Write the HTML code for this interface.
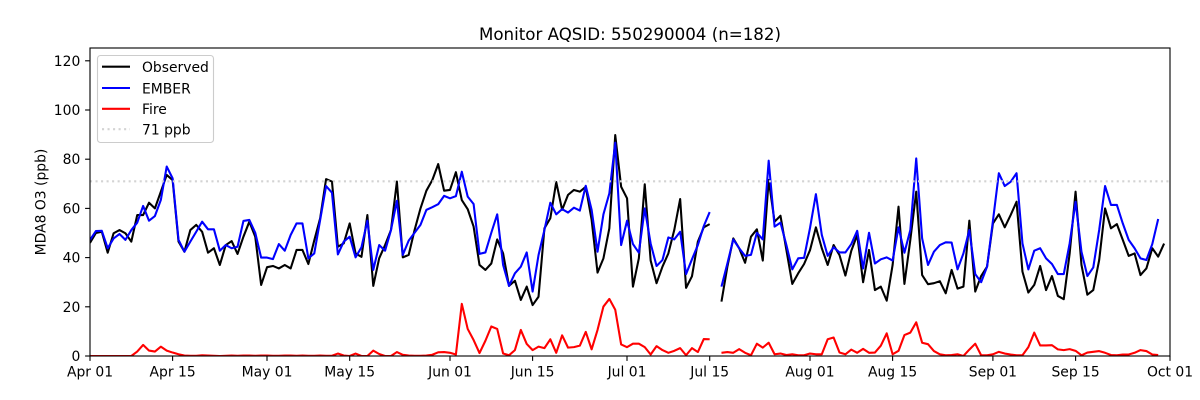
<!DOCTYPE html>
<html>
<head>
<meta charset="utf-8">
<style>
html,body{margin:0;padding:0;background:#fff;}
svg{display:block;}
text{font-family:"DejaVu Sans","Liberation Sans",sans-serif;fill:#000;}
</style>
</head>
<body>
<svg width="1200" height="400" viewBox="0 0 1200 400" xmlns="http://www.w3.org/2000/svg">
<defs>
<clipPath id="ax"><rect x="90" y="48" width="1080" height="308"/></clipPath>
</defs>
<rect x="0" y="0" width="1200" height="400" fill="#fff"/>

<g clip-path="url(#ax)" fill="none" stroke-linejoin="round">
<g transform="matrix(5.9016 0 0 -2.46 90 356)">
<polyline vector-effect="non-scaling-stroke" stroke="#000" stroke-width="2.08" points="0,46 1,50 2,50.5 3,42 4,49.9 5,51.2 6,49.9 7,46.5 8,57.3 9,57.3 10,62.3 11,60 12,66.8 13,73.6 14,71.5 15,46.5 16,42.4 17,51.2 18,53.3 19,50.5 20,42 21,43.8 22,37 23,45.1 24,46.7 25,41.5 26,48.5 27,54.6 28,48.5 29,28.9 30,36.1 31,36.6 32,35.6 33,37 34,35.6 35,43.1 36,43.1 37,37.4 38,47 39,56 40,71.9 41,70.9 42,44.4 43,45.8 44,53.9 45,41.7 46,40.3 47,57.3 48,28.5 49,39.7 50,45.1 51,51.2 52,70.9 53,40.1 54,41.1 55,51.2 56,60 57,67.2 58,71.5 59,78 60,67.2 61,67.5 62,74.7 63,63.4 64,59.7 65,52.6 66,37 67,35 68,37.6 69,47.4 70,41.7 71,28.5 72,30.6 73,22.8 74,28.2 75,20.7 76,24.1 77,51.9 78,56 79,70.7 80,59.4 81,65.5 82,67.5 83,66.8 84,68.8 85,55.3 86,33.9 87,39.7 88,51.9 89,89.8 90,68.8 91,64.1 92,28.2 93,39.7 94,69.8 95,38.8 96,29.6 97,36.3 98,41.7 99,51.2 100,63.8 101,27.7 102,32.4 103,46.5 104,52.3 105,53.6"/>
<polyline vector-effect="non-scaling-stroke" stroke="#000" stroke-width="2.08" points="107,22.1 108,36.3 109,47.8 110,43.8 111,37.9 112,48.5 113,51.5 114,38.8 115,71.6 116,54.6 117,57 118,43.1 119,29.3 120,33.6 121,37.4 122,43 123,52.3 124,43.8 125,37 126,45.1 127,41 128,32.7 129,42.8 130,49.2 131,30 132,43.1 133,26.8 134,28.2 135,22.5 136,37 137,60.7 138,29.3 139,47.2 140,66.8 141,32.9 142,29.2 143,29.6 144,30.4 145,25.5 146,35 147,27.4 148,28.2 149,55 150,26.2 151,32.5 152,36.3 153,53.9 154,57.6 155,52.3 156,57.3 157,62.7 158,34.3 159,25.8 160,28.9 161,36.6 162,26.8 163,32.5 164,24.4 165,23.1 166,41.7 167,66.8 168,37 169,24.9 170,26.8 171,39 172,60 173,51.9 174,53.6 175,47.2 176,40.7 177,41.7 178,32.9 179,35.6 180,43.8 181,40.4 182,45.7"/>

<polyline vector-effect="non-scaling-stroke" stroke="#0000ff" stroke-width="2.08" points="0,47.2 1,50.8 2,50.9 3,43.8 4,47.8 5,49.6 6,47.2 7,51.2 8,54.2 9,61 10,55 11,56.9 12,63.4 13,77 14,72.2 15,47.2 16,42.4 17,46.5 18,50.5 19,54.6 20,51.5 21,51.5 22,42.8 23,45.1 24,43.8 25,44.4 26,54.9 27,55.3 28,50.1 29,40 30,40 31,39.4 32,45.5 33,42.8 34,49.2 35,53.9 36,53.9 37,39.7 38,41.7 39,55.3 40,69.1 41,66.4 42,41.3 43,46.5 44,48.5 45,40.1 46,44.2 47,55 48,35 49,45.1 50,42.8 51,51.2 52,63.1 53,41.1 54,46.9 55,50.1 56,53.3 57,59.4 58,60.5 59,61.7 60,65.1 61,64.1 62,65 63,74.9 64,64.8 65,61.8 66,41.5 67,42.1 68,50.1 69,57.6 70,37 71,28.5 72,33.6 73,36.3 74,42.1 75,26.2 76,41 77,51.2 78,62.3 79,57.6 80,59.7 81,58.3 82,60.3 83,59.1 84,69.2 85,59.4 86,42.4 87,57.6 88,66.1 89,86.7 90,45.1 91,55 92,45.5 93,42 94,60 95,45.7 96,36.6 97,39 98,48.2 99,47.4 100,50.5 101,33.3 102,39.3 103,45.1 104,52.8 105,58.5"/>
<polyline vector-effect="non-scaling-stroke" stroke="#0000ff" stroke-width="2.08" points="107,28.2 108,37.6 109,47.4 110,43.8 111,40.7 112,41.1 113,50.1 114,47.4 115,79.4 116,52.6 117,54.2 118,45.1 119,35.2 120,39.7 121,39.9 122,52 123,65.8 124,49.2 125,40.7 126,44.2 127,42.1 128,42.1 129,45.5 130,50.9 131,35.6 132,50.1 133,37.6 134,39.3 135,40.1 136,38.8 137,52.3 138,42 139,51.2 140,80.3 141,47.8 142,37 143,42.4 144,45.1 145,46.2 146,46.1 147,35.2 148,41.7 149,51.2 150,33.3 151,30 152,36.3 153,55 154,74.3 155,69.1 156,70.8 157,74.3 158,45.8 159,35.2 160,42.8 161,43.8 162,39.7 163,37.4 164,33.3 165,33.3 166,45.8 167,62.7 168,42.4 169,32.5 170,36 171,51.2 172,69.1 173,61.4 174,61.4 175,53.9 176,47.2 177,43.8 178,39.7 179,39 180,45.5 181,55.7"/>

<polyline vector-effect="non-scaling-stroke" stroke="#ff0000" stroke-width="2.08" points="0,0 1,0 2,0 3,0 4,0 5,0 6,0 7,0 8,1.8 9,4.5 10,2.2 11,1.8 12,3.8 13,2.2 14,1.4 15,0.7 16,0.2 17,0.1 18,0.1 19,0.3 20,0.2 21,0.1 22,0 23,0.1 24,0.2 25,0.1 26,0.2 27,0.2 28,0.1 29,0.2 30,0.2 31,0.1 32,0.1 33,0.2 34,0.2 35,0.1 36,0.2 37,0.1 38,0.1 39,0.2 40,0.1 41,0.1 42,1.0 43,0.2 44,0 45,1.0 46,0 47,0 48,2.2 49,0.8 50,0 51,0 52,1.6 53,0.5 54,0.2 55,0.1 56,0.1 57,0.2 58,0.5 59,1.5 60,1.6 61,1.3 62,0.6 63,21.2 64,11 65,6.5 66,1.2 67,6.2 68,12 69,11 70,1 71,0.3 72,2.4 73,10.6 74,4.9 75,2.4 76,3.8 77,3.2 78,6.8 79,1.3 80,8.4 81,3.4 82,3.6 83,4.2 84,9.8 85,2.7 86,10.6 87,20.1 88,23.2 89,18.8 90,4.7 91,3.6 92,5 93,5 94,3.6 95,0.6 96,4 97,2.4 98,1.3 99,2.1 100,3.2 101,0.3 102,3.2 103,1.6 104,6.9 105,6.8"/>
<polyline vector-effect="non-scaling-stroke" stroke="#ff0000" stroke-width="2.08" points="107,1.3 108,1.6 109,1.3 110,2.8 111,1.3 112,0.3 113,5 114,3.4 115,5.4 116,0.7 117,1 118,0.4 119,0.7 120,0.3 121,0.3 122,1 123,0.7 124,0.7 125,6.8 126,7.5 127,1.4 128,0.7 129,2.6 130,1.3 131,2.9 132,1.3 133,1.4 134,4.2 135,9.2 136,0.7 137,2.1 138,8.5 139,9.5 140,13.7 141,5.4 142,4.8 143,2 144,0.7 145,0.3 146,0.4 147,0.7 148,0 149,2.6 150,5 151,0.3 152,0.3 153,0.7 154,1.7 155,1 156,0.6 157,0.3 158,0.3 159,3.6 160,9.5 161,4.3 162,4.3 163,4.4 164,2.7 165,2.4 166,2.8 167,2.1 168,0.3 169,1.4 170,1.7 171,2 172,1.3 173,0.4 174,0.3 175,0.6 176,0.6 177,1.3 178,2.4 179,2 180,0.6 181,0.4"/>
</g>
<line x1="90" y1="181.3" x2="1170" y2="181.3" stroke="#d3d3d3" stroke-width="2.08" stroke-dasharray="2.08 3.44"/>
</g>

<!-- spines -->
<rect x="90" y="48" width="1080" height="308" fill="none" stroke="#000" stroke-width="1.11"/>

<!-- y ticks -->
<g stroke="#000" stroke-width="1.11">
<line x1="85.1" y1="356" x2="90" y2="356"/>
<line x1="85.1" y1="306.8" x2="90" y2="306.8"/>
<line x1="85.1" y1="257.6" x2="90" y2="257.6"/>
<line x1="85.1" y1="208.4" x2="90" y2="208.4"/>
<line x1="85.1" y1="159.2" x2="90" y2="159.2"/>
<line x1="85.1" y1="110" x2="90" y2="110"/>
<line x1="85.1" y1="60.8" x2="90" y2="60.8"/>
</g>
<g font-size="13.9" text-anchor="end">
<text x="80.3" y="361">0</text>
<text x="80.3" y="311.8">20</text>
<text x="80.3" y="262.6">40</text>
<text x="80.3" y="213.4">60</text>
<text x="80.3" y="164.2">80</text>
<text x="80.3" y="115">100</text>
<text x="80.3" y="65.8">120</text>
</g>

<!-- x ticks -->
<g stroke="#000" stroke-width="1.11">
<line x1="90" y1="356" x2="90" y2="360.9"/>
<line x1="172.6" y1="356" x2="172.6" y2="360.9"/>
<line x1="267" y1="356" x2="267" y2="360.9"/>
<line x1="349.7" y1="356" x2="349.7" y2="360.9"/>
<line x1="450" y1="356" x2="450" y2="360.9"/>
<line x1="532.6" y1="356" x2="532.6" y2="360.9"/>
<line x1="627" y1="356" x2="627" y2="360.9"/>
<line x1="709.7" y1="356" x2="709.7" y2="360.9"/>
<line x1="810" y1="356" x2="810" y2="360.9"/>
<line x1="892.6" y1="356" x2="892.6" y2="360.9"/>
<line x1="992.9" y1="356" x2="992.9" y2="360.9"/>
<line x1="1075.6" y1="356" x2="1075.6" y2="360.9"/>
<line x1="1170" y1="356" x2="1170" y2="360.9"/>
</g>
<g font-size="13.9" text-anchor="middle">
<text x="90" y="376.5">Apr 01</text>
<text x="172.6" y="376.5">Apr 15</text>
<text x="267" y="376.5">May 01</text>
<text x="349.7" y="376.5">May 15</text>
<text x="450" y="376.5">Jun 01</text>
<text x="532.6" y="376.5">Jun 15</text>
<text x="627" y="376.5">Jul 01</text>
<text x="709.7" y="376.5">Jul 15</text>
<text x="810" y="376.5">Aug 01</text>
<text x="892.6" y="376.5">Aug 15</text>
<text x="992.9" y="376.5">Sep 01</text>
<text x="1075.6" y="376.5">Sep 15</text>
<text x="1170" y="376.5">Oct 01</text>
</g>

<!-- y label -->
<text x="0" y="0" font-size="13.9" text-anchor="middle" transform="translate(45.5,202) rotate(-90)">MDA8 O3 (ppb)</text>

<!-- title -->
<text x="630" y="40" font-size="16.67" text-anchor="middle">Monitor AQSID: 550290004 (n=182)</text>

<!-- legend -->
<rect x="97.5" y="55.5" width="116" height="87" rx="3" ry="3" fill="#fff" fill-opacity="0.8" stroke="#cccccc" stroke-width="1.11"/>
<line x1="102" y1="66.7" x2="130" y2="66.7" stroke="#000" stroke-width="2.08"/>
<line x1="102" y1="88" x2="130" y2="88" stroke="#0000ff" stroke-width="2.08"/>
<line x1="102" y1="108.8" x2="130" y2="108.8" stroke="#ff0000" stroke-width="2.08"/>
<line x1="102" y1="129.2" x2="130" y2="129.2" stroke="#d3d3d3" stroke-width="2.08" stroke-dasharray="2.08 3.44"/>
<g font-size="13.9">
<text x="142" y="72.2">Observed</text>
<text x="142" y="93.3">EMBER</text>
<text x="142" y="114">Fire</text>
<text x="142" y="134.5">71 ppb</text>
</g>
</svg>
</body>
</html>
